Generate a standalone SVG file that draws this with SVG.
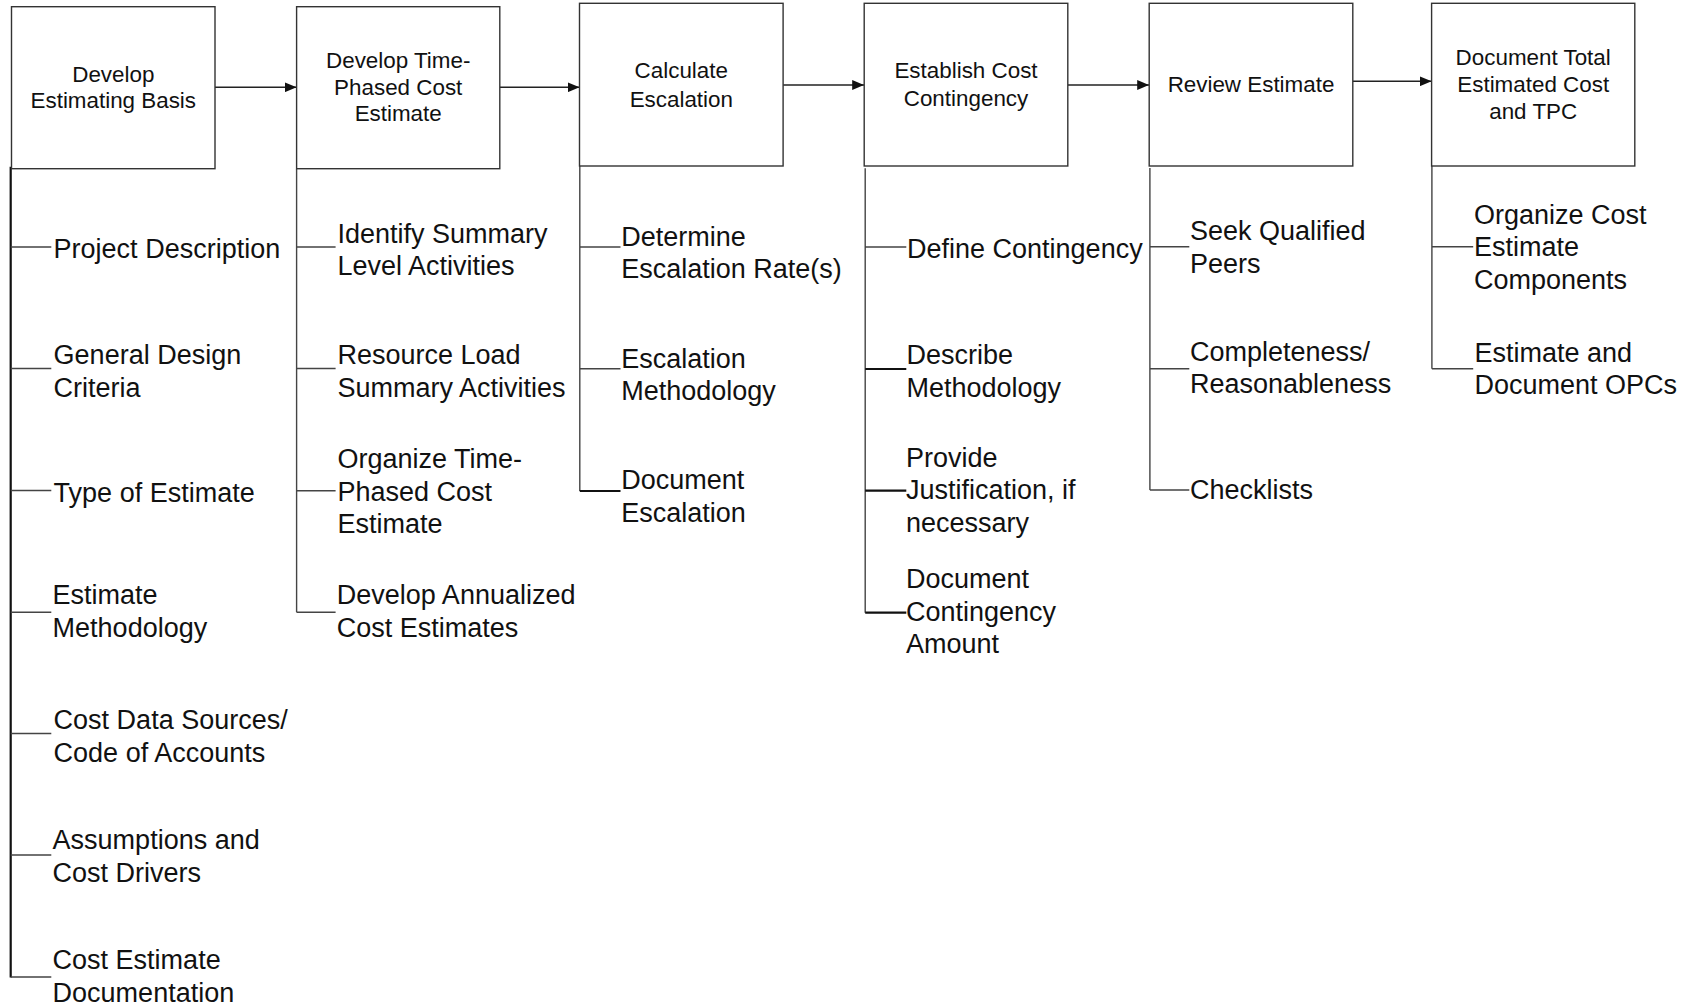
<svg xmlns="http://www.w3.org/2000/svg" width="1692" height="1005" viewBox="0 0 1692 1005">
<style>
.box{fill:#fff;stroke:#333;stroke-width:1.4}
.bt{font-family:"Liberation Sans",Arial,sans-serif;font-size:22.4px;fill:#111;text-anchor:middle}
.lt{font-family:"Liberation Sans",Arial,sans-serif;font-size:27px;fill:#111}
.ln{stroke:#444;stroke-width:1.4;fill:none}
.lk{stroke:#111;stroke-width:2.2;fill:none}
.ar{stroke:#222;stroke-width:1.4;fill:none;marker-end:url(#ah)}
</style>
<defs>
<marker id="ah" markerUnits="userSpaceOnUse" markerWidth="12" markerHeight="10" refX="12" refY="5" orient="auto">
<path d="M0,0 L12,5 L0,10 z" fill="#111"/>
</marker>
</defs>
<rect width="1692" height="1005" fill="#fff"/>

<g id="connectors">
<line class="ar" x1="215" y1="87.3" x2="296.6" y2="87.3"/>
<line class="ar" x1="499.8" y1="87.3" x2="579.5" y2="87.3"/>
<line class="ar" x1="783.1" y1="85" x2="864.2" y2="85"/>
<line class="ar" x1="1067.8" y1="85" x2="1149.2" y2="85"/>
<line class="ar" x1="1352.8" y1="81.3" x2="1431.6" y2="81.3"/>

<path class="lk" d="M10.7,166.7 V977.5"/>
<path class="ln" d="M10.7,247 H51.3 M10.7,368.5 H51.3 M10.7,490.5 H51.3 M10.7,612.3 H51.3 M10.7,733.5 H51.3 M10.7,855 H51.3 M10.7,977 H51.3"/>

<path class="ln" d="M296.6,168.7 V612.3 M296.6,247 H335.6 M296.6,368.5 H335.6 M296.6,490.7 H335.6 M296.6,612.3 H335.6"/>

<path class="ln" d="M579.8,166 V491 M579.8,247 H620.5 M579.8,368.7 H620.5"/>
<path class="lk" d="M579.8,491 H620.5"/>

<path class="ln" d="M865.2,168.3 V612.7 M865.2,247 H906.3"/>
<path class="lk" d="M865.2,369 H906.3 M865.2,490.7 H906.3 M865.2,612.7 H906.3"/>

<path class="ln" d="M1149.9,168 V490 M1149.9,246.7 H1189.3 M1149.9,368.7 H1189.3 M1149.9,490 H1189.3"/>

<path class="ln" d="M1431.9,166 V368.7 M1431.9,246.7 H1473.2 M1431.9,368.7 H1473.2"/>
</g>

<g id="node-develop-basis">
<rect class="box" x="11.5" y="6.7" width="203.5" height="162"/>
<text class="bt"><tspan x="113.3" y="81.5">Develop</tspan><tspan x="113.3" y="108.2">Estimating Basis</tspan></text>
</g>
<g id="node-time-phased">
<rect class="box" x="296.6" y="6.7" width="203.2" height="162"/>
<text class="bt"><tspan x="398.2" y="68.2">Develop Time-</tspan><tspan x="398.2" y="94.8">Phased Cost</tspan><tspan x="398.2" y="121.2">Estimate</tspan></text>
</g>
<g id="node-escalation">
<rect class="box" x="579.5" y="3.3" width="203.6" height="162.7"/>
<text class="bt"><tspan x="681.3" y="78.2">Calculate</tspan><tspan x="681.3" y="106.5">Escalation</tspan></text>
</g>
<g id="node-contingency">
<rect class="box" x="864.2" y="3.3" width="203.6" height="162.7"/>
<text class="bt"><tspan x="966" y="78.2">Establish Cost</tspan><tspan x="966" y="106">Contingency</tspan></text>
</g>
<g id="node-review">
<rect class="box" x="1149.2" y="3.3" width="203.6" height="162.7"/>
<text class="bt"><tspan x="1251" y="92.2">Review Estimate</tspan></text>
</g>
<g id="node-document-tpc">
<rect class="box" x="1431.6" y="3.3" width="203.2" height="162.7"/>
<text class="bt"><tspan x="1533.2" y="64.5">Document Total</tspan><tspan x="1533.2" y="92.2">Estimated Cost</tspan><tspan x="1533.2" y="118.8">and TPC</tspan></text>
</g>

<g id="items-basis">
<text class="lt" x="53.6" y="257.8">Project Description</text>
<text class="lt"><tspan x="53.6" y="364.3">General Design</tspan><tspan x="53.6" y="396.7">Criteria</tspan></text>
<text class="lt" x="53.6" y="501.8">Type of Estimate</text>
<text class="lt"><tspan x="52.6" y="604.3">Estimate</tspan><tspan x="52.6" y="636.7">Methodology</tspan></text>
<text class="lt"><tspan x="53.6" y="729.3">Cost Data Sources/</tspan><tspan x="53.6" y="761.7">Code of Accounts</tspan></text>
<text class="lt"><tspan x="52.6" y="849.3">Assumptions and</tspan><tspan x="52.6" y="881.7">Cost Drivers</tspan></text>
<text class="lt"><tspan x="52.6" y="969.3">Cost Estimate</tspan><tspan x="52.6" y="1001.7">Documentation</tspan></text>
</g>
<g id="items-time-phased">
<text class="lt"><tspan x="337.5" y="242.7">Identify Summary</tspan><tspan x="337.5" y="275.1">Level Activities</tspan></text>
<text class="lt"><tspan x="337.5" y="364.3">Resource Load</tspan><tspan x="337.5" y="396.7">Summary Activities</tspan></text>
<text class="lt"><tspan x="337.5" y="468.3">Organize Time-</tspan><tspan x="337.5" y="500.7">Phased Cost</tspan><tspan x="337.5" y="533.1">Estimate</tspan></text>
<text class="lt"><tspan x="336.8" y="604.3">Develop Annualized</tspan><tspan x="336.8" y="636.7">Cost Estimates</tspan></text>
</g>
<g id="items-escalation">
<text class="lt"><tspan x="621.2" y="246">Determine</tspan><tspan x="621.2" y="278.4">Escalation Rate(s)</tspan></text>
<text class="lt"><tspan x="621.2" y="367.7">Escalation</tspan><tspan x="621.2" y="400.1">Methodology</tspan></text>
<text class="lt"><tspan x="621.2" y="489.3">Document</tspan><tspan x="621.2" y="521.7">Escalation</tspan></text>
</g>
<g id="items-contingency">
<text class="lt" x="907" y="258.3">Define Contingency</text>
<text class="lt"><tspan x="906.5" y="364.3">Describe</tspan><tspan x="906.5" y="396.7">Methodology</tspan></text>
<text class="lt"><tspan x="906" y="466.7">Provide</tspan><tspan x="906" y="499.1">Justification, if</tspan><tspan x="906" y="531.5">necessary</tspan></text>
<text class="lt"><tspan x="906" y="588.3">Document</tspan><tspan x="906" y="620.7">Contingency</tspan><tspan x="906" y="653.1">Amount</tspan></text>
</g>
<g id="items-review">
<text class="lt"><tspan x="1190" y="240.3">Seek Qualified</tspan><tspan x="1190" y="272.7">Peers</tspan></text>
<text class="lt"><tspan x="1190" y="361">Completeness/</tspan><tspan x="1190" y="393.4">Reasonableness</tspan></text>
<text class="lt" x="1190" y="499.3">Checklists</text>
</g>
<g id="items-document-tpc">
<text class="lt"><tspan x="1473.9" y="223.7">Organize Cost</tspan><tspan x="1473.9" y="256.1">Estimate</tspan><tspan x="1473.9" y="288.5">Components</tspan></text>
<text class="lt"><tspan x="1474.5" y="362">Estimate and</tspan><tspan x="1474.5" y="394.4">Document OPCs</tspan></text>
</g>
</svg>
